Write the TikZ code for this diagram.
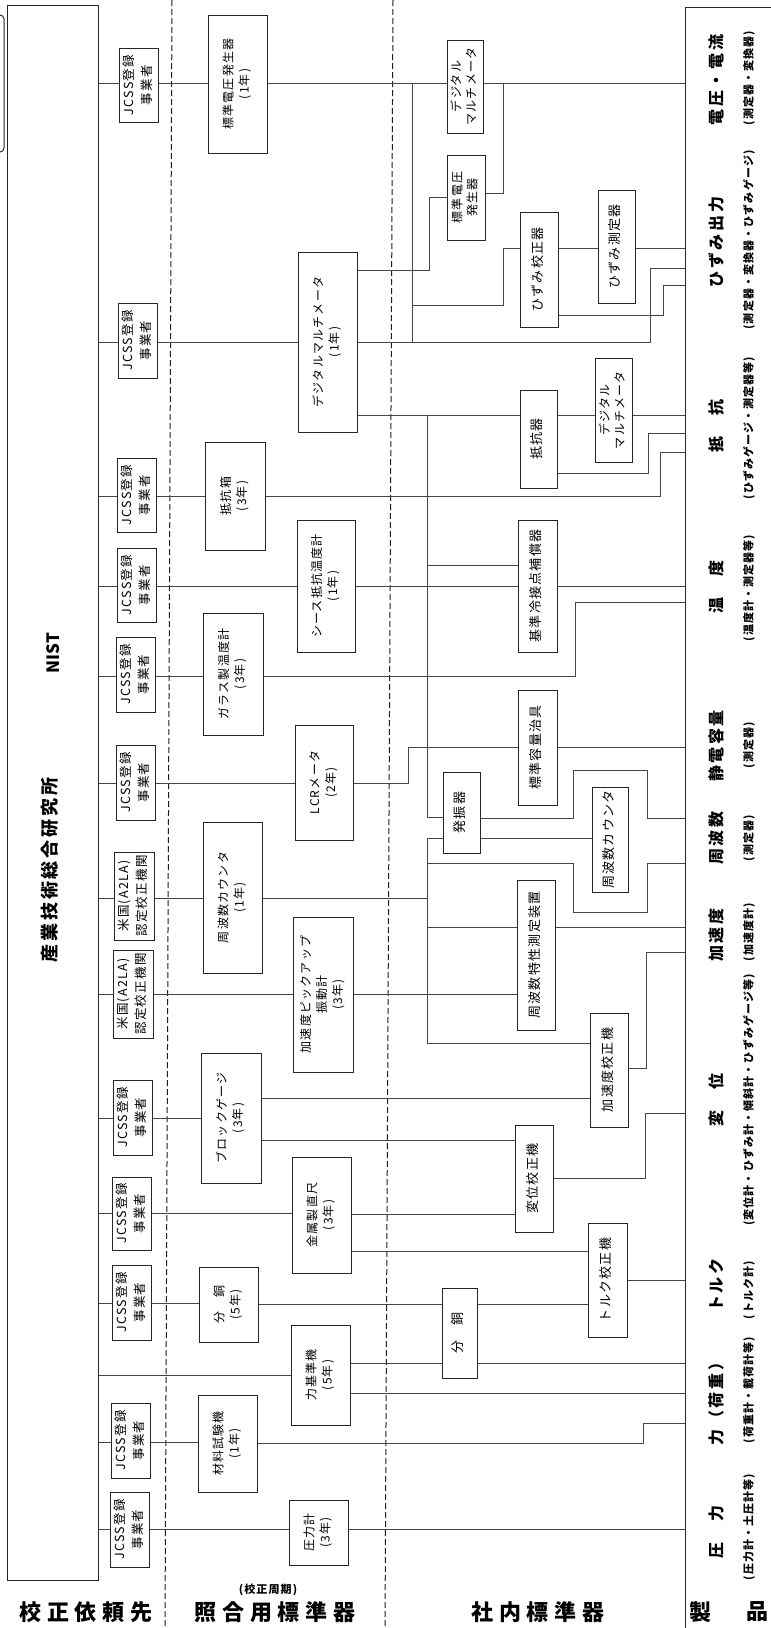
\documentclass[tikz,border=0pt]{standalone}
\usepackage{fontspec}
\setmainfont{Noto Sans CJK JP}
\newfontfamily\bxf{Noto Sans CJK JP}[LetterSpace=10]
\newfontfamily\lbf{Noto Sans CJK JP}[LetterSpace=16]
\newfontfamily\wbf{Noto Sans CJK JP}[LetterSpace=26]
\newcommand\rt[1]{\rotatebox{90}{\begin{tabular}{@{}c@{}}#1\end{tabular}}}
\newcommand\mybox[7][bx]{\node[#1, minimum width={#5-#3}, minimum height={#6-#4}] (#2) at ({(#3+#5)/2},{(#4+#6)/2}) {\rt{#7}};}
\newcommand\hconn[3]{\draw[ln] (#1.east |- 0,#3) -- (#2.west |- 0,#3);}
\begin{document}
\begin{tikzpicture}[x=1pt,y=-1pt,
  ln/.style={draw=black!72, line width=0.75pt},
  bxl/.style={draw=black!85, line width=1pt},
  sep/.style={draw=black!88, line width=1pt, dash pattern=on 6pt off 3pt},
  bx/.style={bxl, fill=white, inner sep=0pt, font=\bxf\fontsize{12}{16}\selectfont},
  jb/.style={bx, font=\bxf\fontsize{12.5}{18}\selectfont},
  tb/.style={bx, font=\bxf\fontsize{13}{16}\selectfont},
  tb2/.style={bx, font=\bxf\fontsize{12}{15}\selectfont},
  pm/.style={rotate=90, inner sep=0pt, font=\lbf\bfseries\fontsize{16}{16}\selectfont},
  ps/.style={rotate=90, inner sep=0pt, font=\bxf\bfseries\fontsize{11}{11}\selectfont},
  rowlab/.style={inner sep=0pt, font=\wbf\bfseries\fontsize{22}{22}\selectfont}]
\useasboundingbox (0,0) rectangle (771,1628);
\fill[white] (0,0) rectangle (771,1628);

% separators and frames
\draw[sep] (172,0) -- (165,1628);
\draw[sep] (393,0) -- (385,1628);
\draw[bxl, rounded corners=4pt] (-10,15) -- (4,15) -- (4,152) -- (-10,152);
\node[bxl, inner sep=0pt, minimum width=91, minimum height=1575] (big) at (52.5,792.5) {};
\node[rotate=90, inner sep=0pt, font=\lbf\bfseries\fontsize{18}{18}\selectfont] (aist) at (50,870) {産業技術総合研究所};
\node[rotate=90, inner sep=0pt, font=\bfseries\fontsize{17}{17}\selectfont] (nist) at (53,653) {NIST};
\draw[bxl] (685,1640) -- (685,7) -- (790,7);
\node[inner sep=0pt, minimum size=0pt] (P) at (685,800) {};

% calibration providers
\mybox[jb]{J1}{119}{48}{158}{122}{JCSS登録\\事業者}
\mybox[jb]{J2}{118}{303}{157}{378}{JCSS登録\\事業者}
\mybox[jb]{J3}{117}{458}{156}{532}{JCSS登録\\事業者}
\mybox[jb]{J4}{117}{548}{156}{622}{JCSS登録\\事業者}
\mybox[jb]{J5}{116}{637}{155}{712}{JCSS登録\\事業者}
\mybox[jb]{J6}{116}{745}{155}{820}{JCSS登録\\事業者}
\mybox[jb]{A1}{114}{852}{154}{940}{米国(A2LA)\\認定校正機関}
\mybox[jb]{A2}{113}{950}{153}{1038}{米国(A2LA)\\認定校正機関}
\mybox[jb]{J7}{113}{1080}{152}{1155}{JCSS登録\\事業者}
\mybox[jb]{J8}{112}{1177}{151}{1250}{JCSS登録\\事業者}
\mybox[jb]{J9}{112}{1265}{151}{1340}{JCSS登録\\事業者}
\mybox[jb]{J10}{111}{1403}{150}{1478}{JCSS登録\\事業者}
\mybox[jb]{J11}{110}{1492}{149}{1567}{JCSS登録\\事業者}

% reference standards
\mybox{S1}{208}{15}{267}{153}{標準電圧発生器\\(1年)}
\mybox{S2}{298}{252}{357}{432}{デジタルマルチメータ\\(1年)}
\mybox{S3}{205}{442}{265}{550}{抵抗箱\\(3年)}
\mybox{S4}{297}{520}{355}{652}{シース抵抗温度計\\(1年)}
\mybox{S5}{203}{613}{263}{735}{ガラス製温度計\\(3年)}
\mybox{S6}{295}{725}{353}{840}{LCRメータ\\(2年)}
\mybox{S7}{203}{822}{262}{973}{周波数カウンタ\\(1年)}
\mybox{S8}{293}{917}{353}{1072}{加速度ピックアップ\\振動計\\(3年)}
\mybox{S9}{201}{1053}{261}{1183}{ブロックゲージ\\(3年)}
\mybox{S10}{292}{1157}{351}{1273}{金属製直尺\\(3年)}
\mybox{S11}{199}{1267}{258}{1342}{分　銅\\(5年)}
\mybox{S12}{291}{1325}{350}{1425}{力基準機\\(5年)}
\mybox{S13}{198}{1395}{257}{1492}{材料試験機\\(1年)}
\mybox{S14}{289}{1500}{348}{1565}{圧力計\\(3年)}

% in-house standards
\mybox[tb2]{T1}{447}{40}{483}{133}{デジタル\\マルチメータ}
\mybox[tb2]{T2}{447}{155}{485}{240}{標準電圧\\発生器}
\mybox[tb]{T3}{520}{212}{558}{327}{ひずみ校正器}
\mybox[tb]{T4}{598}{190}{635}{303}{ひずみ測定器}
\mybox[tb]{T5}{520}{390}{557}{488}{抵抗器}
\mybox[tb2]{T6}{595}{358}{632}{462}{デジタル\\マルチメータ}
\mybox[tb]{T7}{518}{520}{557}{652}{基準冷接点補償器}
\mybox[tb]{T8}{518}{690}{557}{805}{標準容量治具}
\mybox[tb]{T9}{443}{772}{480}{853}{発振器}
\mybox[tb]{T10}{592}{787}{628}{892}{周波数カウンタ}
\mybox[tb]{T11}{517}{880}{555}{1030}{周波数特性測定装置}
\mybox[tb]{T12}{590}{1013}{628}{1127}{加速度校正機}
\mybox[tb]{T13}{515}{1125}{553}{1232}{変位校正機}
\mybox[tb]{T14}{588}{1223}{627}{1337}{トルク校正機}
\mybox[tb]{T15}{442}{1288}{477}{1378}{分　銅}

% bus junction points
\coordinate (b1t) at (412,83);
\coordinate (b1b) at (412,342);
\coordinate (b2t) at (427,415);
\coordinate (b2m) at (427,817);
\coordinate (b3t) at (427,838);
\coordinate (b3b) at (427,1043);

% connectors: voltage / strain
\hconn{big}{J1}{83}\hconn{J1}{S1}{83}\hconn{S1}{T1}{83}\hconn{T1}{P}{83}
\draw[ln] (b1t) -- (b1b);
\draw[ln] (T2.east |- 0,193) -| (503,83);
\draw[ln] (S2.east |- 0,270) -| (429,197) -- (T2.west |- 0,197);
\hconn{big}{J2}{342}\hconn{J2}{S2}{342}
\draw[ln] (S2.east |- 0,342) -| (650,268) -- (P.west |- 0,268);
\draw[ln] (412,305) -| (503,248) -- (T3.west |- 0,248);
\hconn{T3}{T4}{248}\hconn{T4}{P}{248}
\draw[ln] (T3.east |- 0,315) -| (663,285) -- (P.west |- 0,285);
% resistance
\hconn{S2}{T5}{415}\hconn{T5}{T6}{415}\hconn{T6}{P}{415}
\draw[ln] (b2t) -- (b2m) -- (T9.west |- b2m);
\draw[ln] (T5.east |- 0,473) -| (648,433) -- (P.west |- 0,433);
\hconn{big}{J3}{496}\hconn{J3}{S3}{496}
\draw[ln] (S3.east |- 0,496) -| (660,452) -- (P.west |- 0,452);
% temperature
\draw[ln] (427,565) -- (T7.west |- 0,565);
\hconn{big}{J4}{586}\hconn{J4}{S4}{586}\hconn{S4}{T7}{586}\hconn{T7}{P}{586}
\hconn{big}{J5}{676}\hconn{J5}{S5}{676}
\draw[ln] (S5.east |- 0,676) -| (575,602) -- (P.west |- 0,602);
% capacitance / frequency
\hconn{big}{J6}{783}\hconn{J6}{S6}{783}
\draw[ln] (S6.east |- 0,783) -| (408,747) -- (T8.west |- 0,747);
\hconn{T8}{P}{747}
\draw[ln] (T9.east |- 0,818) -| (573,770) -| (647,818) -- (P.west |- 0,818);
\hconn{T9}{T10}{838}
\draw[ln] (T9.west |- b3t) -- (b3t) -- (b3b) -- (T12.west |- b3b);
\hconn{big}{A1}{898}\hconn{A1}{S7}{898}
\draw[ln] (S7.east |- 0,898) -- (427,898);
\draw[ln] (427,863) -| (573,912) -| (647,863) -- (P.west |- 0,863);
% acceleration
\draw[ln] (427,927) -- (T11.west |- 0,927);
\hconn{T11}{P}{927}
\hconn{big}{A2}{994}\hconn{A2}{S8}{994}\hconn{S8}{T11}{994}
\draw[ln] (T12.east |- 0,1068) -| (646,952) -- (P.west |- 0,952);
\hconn{S9}{T12}{1098}
% displacement
\hconn{big}{J7}{1118}\hconn{J7}{S9}{1118}
\hconn{S9}{T13}{1140}
\draw[ln] (T13.east |- 0,1178) -| (645,1113) -- (P.west |- 0,1113);
\hconn{big}{J8}{1213}\hconn{J8}{S10}{1213}\hconn{S10}{T13}{1214}
% torque / force
\hconn{S10}{T14}{1251}
\hconn{T14}{P}{1280}
\hconn{big}{J9}{1303}\hconn{J9}{S11}{1303}\hconn{S11}{T15}{1304}\hconn{T15}{T14}{1304}
\hconn{big}{S12}{1375}
\hconn{S12}{T15}{1363}\hconn{T15}{P}{1363}
\hconn{S12}{P}{1393}
\hconn{big}{J10}{1442}\hconn{J10}{S13}{1442}
\draw[ln] (S13.east |- 0,1443) -| (643,1423) -- (P.west |- 0,1423);
% pressure
\hconn{big}{J11}{1529}\hconn{J11}{S14}{1529}\hconn{S14}{P}{1529}

% product labels
\node[pm] (p1) at (716,80) {電圧・電流};
\node[ps] (q1) at (749,78) {(測定器・変換器)};
\node[pm] (p2) at (716,242) {ひずみ出力};
\node[ps] (q2) at (749,240) {(測定器・変換器・ひずみゲージ)};
\node[pm] (p3) at (716,426) {抵　抗};
\node[ps] (q3) at (749,428) {(ひずみゲージ・測定器等)};
\node[pm] (p4) at (716,587) {温　度};
\node[ps] (q4) at (749,588) {(温度計・測定器等)};
\node[pm] (p5) at (716,746) {静電容量};
\node[ps] (q5) at (749,745) {(測定器)};
\node[pm] (p6) at (716,838) {周波数};
\node[ps] (q6) at (749,838) {(測定器)};
\node[pm] (p7) at (716,935) {加速度};
\node[ps] (q7) at (749,932) {(加速度計)};
\node[pm] (p8) at (716,1100) {変　位};
\node[ps] (q8) at (749,1100) {(変位計・ひずみ計・傾斜計・ひずみゲージ等)};
\node[pm] (p9) at (716,1285) {トルク};
\node[ps] (q9) at (749,1290) {(トルク計)};
\node[pm] (p10) at (716,1400) {力（荷重）};
\node[ps] (q10) at (749,1390) {(荷重計・載荷計等)};
\node[pm] (p11) at (716,1532) {圧　力};
\node[ps] (q11) at (749,1527) {(圧力計・土圧計等)};

% row labels at the bottom
\node[rowlab] (r1) at (86,1612) {校正依頼先};
\node[inner sep=0pt, font=\bxf\bfseries\fontsize{11}{11}\selectfont] (r2c) at (268,1590) {(校正周期)};
\node[rowlab] (r2) at (275,1612) {照合用標準器};
\node[rowlab] (r3) at (538,1612) {社内標準器};
\node[rowlab] (r4a) at (700,1612) {製};
\node[rowlab] (r4b) at (757,1612) {品};
\end{tikzpicture}
\end{document}
